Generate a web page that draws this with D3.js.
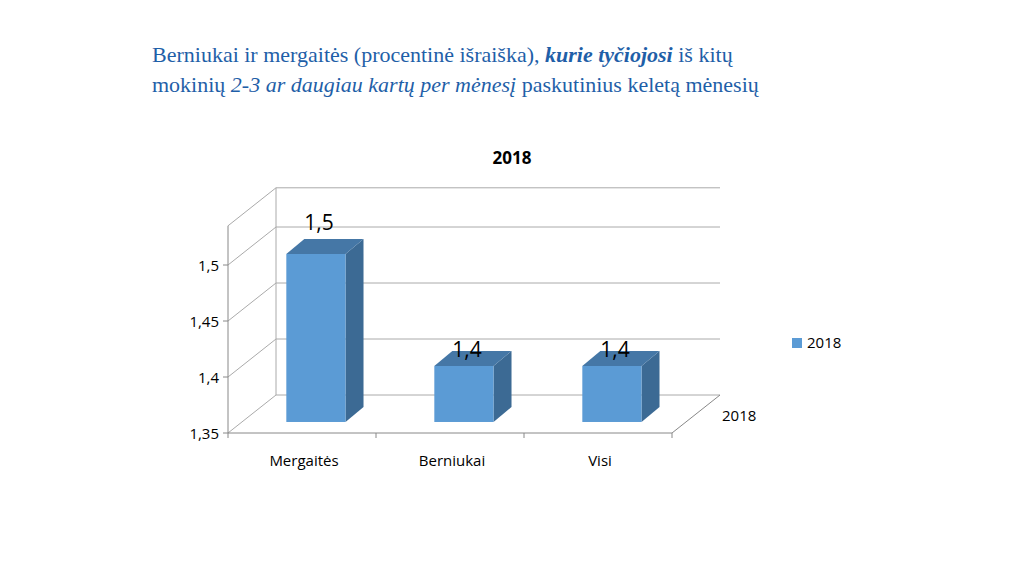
<!DOCTYPE html>
<html><head><meta charset="utf-8">
<script src="https://cdn.jsdelivr.net/npm/d3@7"></script>
<style>body{margin:0;background:#fff} .hd, .hd tspan{font-family:"Liberation Serif","DejaVu Serif",serif}</style>
</head><body>
<svg id="chart" width="1024" height="576"></svg>
<script>
// data
var categories = ["Mergaitės", "Berniukai", "Visi"];
var values = [1.5, 1.4, 1.4];
var labels = ["1,5", "1,4", "1,4"];
var yTicks = [1.35, 1.4, 1.45, 1.5];
var seriesName = "2018";

var svg = d3.select("#chart");
var fmt = function (d) { return String(d).replace(".", ","); };

// heading
var head = svg.append("text").attr("class", "hd").attr("x", 152).attr("y", 62)
    .style("font-size", "22px").attr("fill", "#1f5fa8");
head.append("tspan").text("Berniukai ir mergaitės (procentinė išraiška), ");
head.append("tspan").text("kurie tyčiojosi").style("font-weight", "bold").style("font-style", "italic");
head.append("tspan").text(" iš kitų");
var head2 = svg.append("text").attr("class", "hd").attr("x", 152).attr("y", 92)
    .style("font-size", "22px").attr("fill", "#1f5fa8");
head2.append("tspan").text("mokinių ");
head2.append("tspan").text("2-3 ar daugiau kartų per mėnesį").style("font-style", "italic");
head2.append("tspan").text(" paskutinius keletą mėnesių");

svg.append("text").attr("x", 512).attr("y", 164).attr("text-anchor", "middle")
    .style("font-family", "Open Sans").style("font-weight", "bold").style("font-size", "17px")
    .text(seriesName);

// 3D geometry
var x0 = 228, x1 = 672, dx = 48, dy = -38;
var y = d3.scaleLinear().domain([1.35, 1.5]).range([433, 265]);
var x = d3.scaleBand().domain(categories).range([x0, x1]);
var g = svg.append("g").attr("stroke", "#888").attr("stroke-width", 1).attr("fill", "none");

var yTopEdge = y(1.5) - 0.7 * (y(1.45) - y(1.5));
yTicks.forEach(function (t) {
    g.append("line").attr("x1", x0 + dx).attr("x2", x1 + dx).attr("y1", y(t) + dy).attr("y2", y(t) + dy).attr("stroke", "#aaa");
    g.append("line").attr("x1", x0).attr("x2", x0 + dx).attr("y1", y(t)).attr("y2", y(t) + dy).attr("stroke", "#aaa");
});
g.append("line").attr("x1", x0 + dx).attr("x2", x1 + dx).attr("y1", yTopEdge + dy).attr("y2", yTopEdge + dy).attr("stroke", "#aaa");
g.append("line").attr("x1", x0 + dx).attr("x2", x0 + dx).attr("y1", yTopEdge + dy).attr("y2", y(1.35) + dy).attr("stroke", "#aaa");
g.append("line").attr("x1", x0).attr("x2", x0 + dx).attr("y1", yTopEdge).attr("y2", yTopEdge + dy).attr("stroke", "#aaa");
// axes
g.append("line").attr("x1", x0).attr("x2", x0).attr("y1", yTopEdge).attr("y2", y(1.35));
g.append("line").attr("x1", x0).attr("x2", x1).attr("y1", y(1.35)).attr("y2", y(1.35));
g.append("line").attr("x1", x1).attr("x2", x1 + dx).attr("y1", y(1.35)).attr("y2", y(1.35) + dy);
yTicks.forEach(function (t) {
    g.append("line").attr("x1", x0 - 5).attr("x2", x0).attr("y1", y(t)).attr("y2", y(t));
});
d3.range(categories.length + 1).forEach(function (i) {
    var xx = x0 + i * x.bandwidth();
    g.append("line").attr("x1", xx).attr("x2", xx).attr("y1", y(1.35)).attr("y2", y(1.35) + 5);
});

// y tick labels
svg.selectAll(".yl").data(yTicks).enter().append("text")
    .attr("x", x0 - 9).attr("y", function (d) { return y(d) + 6; }).attr("text-anchor", "end")
    .style("font-family", "Open Sans").style("font-size", "15px").text(fmt);
// x labels
svg.selectAll(".xl").data(categories).enter().append("text")
    .attr("x", function (d) { return x(d) + x.bandwidth() / 2 + 2; }).attr("y", 466).attr("text-anchor", "middle")
    .style("font-family", "Open Sans").style("font-size", "15px").text(function (d) { return d; });
svg.append("text").attr("x", 722).attr("y", 421).style("font-family", "Open Sans").style("font-size", "15px").text(seriesName);

// bars
var f = 0.29, bw = x.bandwidth() * 0.4, bdx = 18, bdy = -15;
var ox = dx * f, oy = dy * f;
categories.forEach(function (c, i) {
    var cx = x(c) + x.bandwidth() / 2 + ox, l = cx - bw / 2, r = cx + bw / 2;
    var yt = y(values[i]) + oy, yb = y(1.35) + oy;
    svg.append("polygon").attr("fill", "#3c6a94")
        .attr("points", [[r, yt], [r + bdx, yt + bdy], [r + bdx, yb + bdy], [r, yb]].join(" "));
    svg.append("polygon").attr("fill", "#4577a6")
        .attr("points", [[l, yt], [l + bdx, yt + bdy], [r + bdx, yt + bdy], [r, yt]].join(" "));
    svg.append("rect").attr("x", l).attr("y", yt).attr("width", bw).attr("height", yb - yt).attr("fill", "#5b9bd5");
    svg.append("text").attr("x", cx + 3).attr("y", yt + (i ? -9 : -24))
        .attr("text-anchor", "middle").style("font-family", "Open Sans").style("font-size", "21px").text(labels[i]);
});

// legend
svg.append("rect").attr("x", 792).attr("y", 338).attr("width", 10).attr("height", 10).attr("fill", "#5b9bd5");
svg.append("text").attr("x", 807).attr("y", 348).style("font-family", "Open Sans").style("font-size", "15px").text(seriesName);
</script>
</body></html>
